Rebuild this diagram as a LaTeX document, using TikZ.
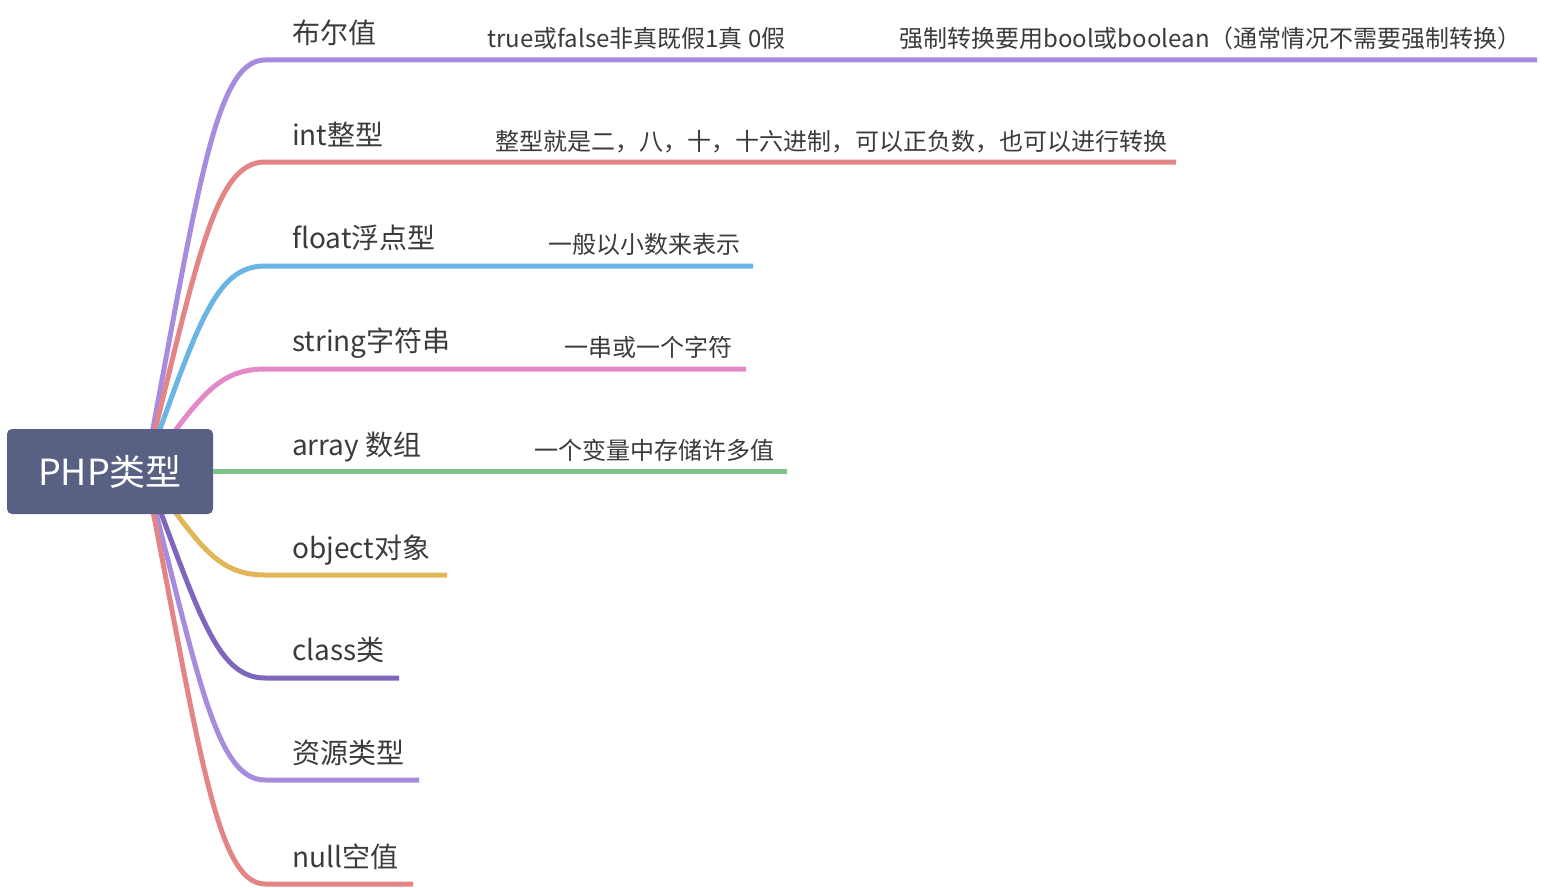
\documentclass[tikz,border=0pt]{standalone}
\usepackage{fontspec}
\setmainfont{Noto Sans CJK SC}
\definecolor{txt}{HTML}{3B3B3B}
\definecolor{rootfill}{HTML}{586084}
\definecolor{cpurple}{HTML}{A68BDF}
\definecolor{cred}{HTML}{E38585}
\definecolor{cblue}{HTML}{6BB5E5}
\definecolor{cpink}{HTML}{E588C8}
\definecolor{cgreen}{HTML}{7DC489}
\definecolor{cyellow}{HTML}{E0B657}
\definecolor{cdpurple}{HTML}{7E66BD}
\tikzset{
  branch/.style={line width=5pt},
  lbl/.style={anchor=west, inner sep=0pt, text=txt, text height=0.88em, text depth=0.12em, font=\fontsize{28}{30}\selectfont},
  sub/.style={anchor=west, inner sep=0pt, text=txt, text height=0.88em, text depth=0.12em, font=\fontsize{24}{26}\selectfont},
  rootbox/.style={fill=rootfill, rounded corners=5pt, inner sep=0pt, minimum width=206pt, minimum height=85pt, text=white, font=\fontsize{36}{40}\selectfont}
}
\begin{document}
\begin{tikzpicture}[x=1pt,y=-1pt]
\useasboundingbox (0,0) rectangle (1544,888);
\coordinate (o) at (145,471);
% end points
\coordinate (e1) at (265,60);
\coordinate (e2) at (265,162);
\coordinate (e3) at (265,266);
\coordinate (e4) at (265,369);
\coordinate (e6) at (265,575);
\coordinate (e7) at (265,678);
\coordinate (e8) at (265,780);
\coordinate (e9) at (265,884);
\coordinate (f1) at (1537,60);
\coordinate (f2) at (1176,162);
\coordinate (f3) at (753,266);
\coordinate (f4) at (746,369);
\coordinate (f5) at (787,471);
\coordinate (f6) at (447,575);
\coordinate (f7) at (399,678);
\coordinate (f8) at (419,780);
\coordinate (f9) at (413,884);
% curves
\draw[branch, cpurple] (o) .. controls (198,190) and (215,60) .. (e1) -- (f1);
\draw[branch, cred] (o) .. controls (198,257) and (215,162) .. (e2) -- (f2);
\draw[branch, cblue] (o) .. controls (198,324) and (215,266) .. (e3) -- (f3);
\draw[branch, cpink] (o) .. controls (198,401) and (215,369) .. (e4) -- (f4);
\draw[branch, cyellow] (o) .. controls (198,542) and (215,575) .. (e6) -- (f6);
\draw[branch, cdpurple] (o) .. controls (198,608) and (215,678) .. (e7) -- (f7);
\draw[branch, cpurple] (o) .. controls (198,672) and (215,780) .. (e8) -- (f8);
\draw[branch, cred] (o) .. controls (198,736) and (215,884) .. (e9) -- (f9);
% root
\node[rootbox] (root) at (110,471.5) {PHP类型};
\coordinate (e5) at (root.east |- f5);
\draw[branch, cgreen] (e5) -- (f5);
% labels
\node[lbl] (l1) at (292,40) {布尔值};
\node[lbl] (l2) at (292,142) {int整型};
\node[lbl] (l3) at (292,245) {float浮点型};
\node[lbl] (l4) at (292,348) {string字符串};
\node[lbl] (l5) at (292,452) {array 数组};
\node[lbl] (l6) at (292,555) {object对象};
\node[lbl] (l7) at (292,657) {class类};
\node[lbl] (l8) at (292,760) {资源类型};
\node[lbl] (l9) at (292,864) {null空值};
% sub labels
\node[sub] (s1a) at (487,44) {true或false非真既假1真 0假};
\node[sub] (s1b) at (899,44) {强制转换要用bool或boolean（通常情况不需要强制转换）};
\node[sub] (s2) at (495,147) {整型就是二，八，十，十六进制，可以正负数，也可以进行转换};
\node[sub] (s3) at (548,250) {一般以小数来表示};
\node[sub] (s4) at (564,353) {一串或一个字符};
\node[sub] (s5) at (534,456) {一个变量中存储许多值};
\end{tikzpicture}
\end{document}
